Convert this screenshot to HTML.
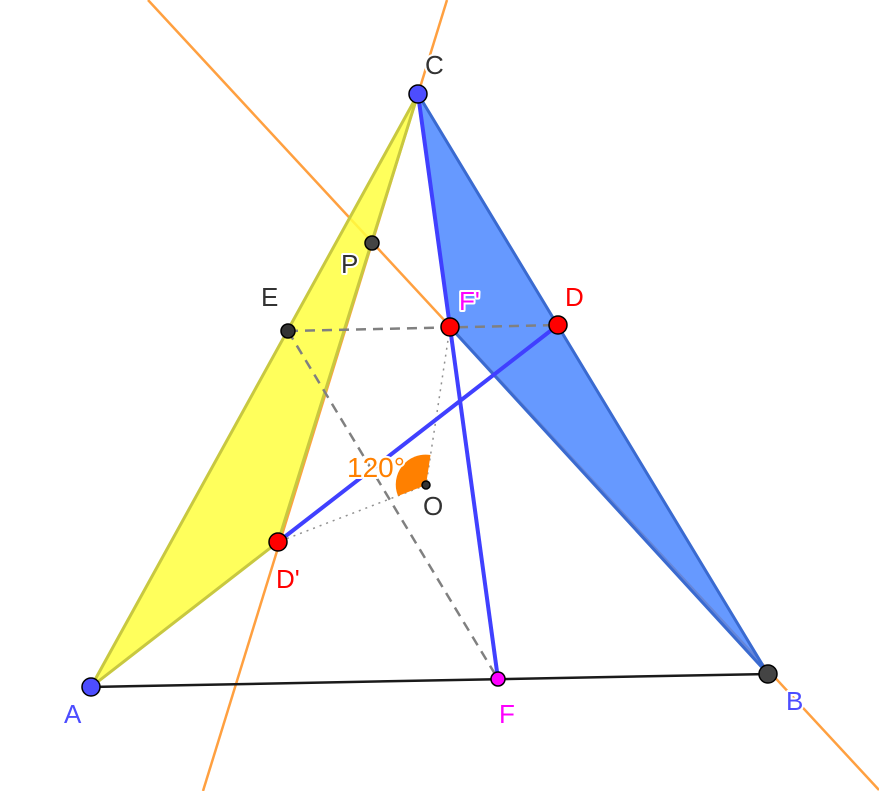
<!DOCTYPE html>
<html><head><style>html,body{margin:0;padding:0;background:#fff}svg{display:block}
text{font-family:"Liberation Sans",sans-serif;font-size:26px;paint-order:stroke;stroke:#fff;stroke-width:4px;stroke-linejoin:round}</style></head>
<body>
<svg width="879" height="791" viewBox="0 0 879 791">
<line x1="148" y1="0" x2="879" y2="790" stroke="#ffa040" stroke-width="2.5"/>
<line x1="447" y1="0" x2="203" y2="791" stroke="#ffa040" stroke-width="2.5"/>
<polygon points="91,687 418,94 278,542" fill="#ffff40" fill-opacity="0.85" stroke="#c8c840" stroke-width="3"/>
<polygon points="418,94 768,674 450,327" fill="#4080ff" fill-opacity="0.8" stroke="#3a6ad0" stroke-width="3"/>
<line x1="91" y1="687" x2="768" y2="674" stroke="#1a1a1a" stroke-width="2.5"/>
<line x1="288" y1="331" x2="558" y2="325" stroke="#808080" stroke-width="2.5" stroke-dasharray="10,7"/>
<line x1="288" y1="331" x2="498" y2="679" stroke="#808080" stroke-width="2.5" stroke-dasharray="10,7"/>
<line x1="450" y1="327" x2="426" y2="485" stroke="#909090" stroke-width="1.5" stroke-dasharray="2,5"/>
<line x1="426" y1="485" x2="278" y2="542" stroke="#909090" stroke-width="1.5" stroke-dasharray="2,5"/>
<path d="M426,485 L398,496 A30,30 0 0 1 430.5,455 Z" fill="#ff8000"/>
<line x1="278" y1="542" x2="558" y2="325" stroke="#4040ff" stroke-width="4"/>
<line x1="418" y1="94" x2="450" y2="327" stroke="#4040ff" stroke-width="4"/>
<line x1="450" y1="327" x2="498" y2="679" stroke="#4040ff" stroke-width="4"/>
<g stroke="#000" stroke-width="1.5">
<circle cx="418" cy="94" r="9" fill="#4d4dff"/>
<circle cx="91" cy="687" r="9" fill="#4d4dff"/>
<circle cx="768" cy="674" r="9" fill="#444"/>
<circle cx="498" cy="679" r="7" fill="#ff00ff"/>
<circle cx="558" cy="325" r="9" fill="#ff0000"/>
<circle cx="450" cy="327" r="9" fill="#ff0000"/>
<circle cx="278" cy="542" r="9" fill="#ff0000"/>
<circle cx="288" cy="331" r="7" fill="#333"/>
<circle cx="372" cy="243" r="7" fill="#444"/>
<circle cx="426" cy="485" r="4" fill="#333"/>
</g>
<text x="425" y="74" fill="#333">C</text>
<text x="64" y="723" fill="#4d4dff">A</text>
<text x="786" y="710" fill="#4d4dff">B</text>
<text x="499" y="723" fill="#ff00ff">F</text>
<text x="565" y="306" fill="#ff0000">D</text>
<text x="459" y="310" fill="#ff00ff">F'</text>
<text x="276" y="588" fill="#ff0000">D'</text>
<text x="261" y="306" fill="#333">E</text>
<text x="341" y="273" fill="#333">P</text>
<text x="423" y="515" fill="#333">O</text>
<text x="347" y="477" fill="#ff8000" style="font-size:28px">120°</text>
</svg>
</body></html>
